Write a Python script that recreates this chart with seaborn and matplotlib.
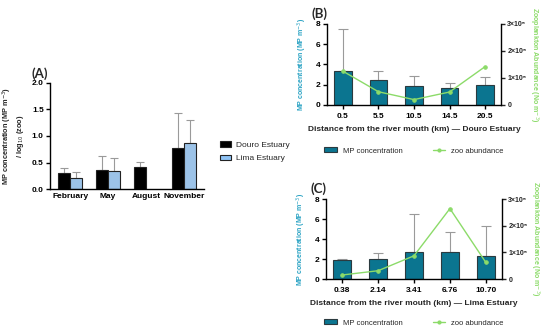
import numpy as np
import pandas as pd
import matplotlib
matplotlib.use("Agg")
import matplotlib.pyplot as plt
import seaborn as sns
from matplotlib.patches import Patch
from matplotlib.lines import Line2D

sns.set_theme(style="ticks")
plt.rcParams['font.family'] = ['Liberation Sans', 'DejaVu Sans']

# ---------------- data ----------------
months = ["February", "May", "August", "November"]
douro_ratio = [0.31, 0.36, 0.41, 0.77]
douro_ratio_err = [0.09, 0.26, 0.10, 0.66]
lima_ratio = [0.20, 0.34, np.nan, 0.87]
lima_ratio_err = [0.13, 0.24, np.nan, 0.43]

douro_dist = ["0.5", "5.5", "10.5", "14.5", "20.5"]
douro_mp = [3.35, 2.50, 1.85, 1.68, 2.00]
douro_mp_err = [4.20, 0.90, 1.00, 0.50, 0.72]
douro_zoo = [1.25e5, 0.49e5, 0.20e5, 0.48e5, 1.42e5]

lima_dist = ["0.38", "2.14", "3.41", "6.76", "10.70"]
lima_mp = [1.90, 2.05, 2.75, 2.72, 2.30]
lima_mp_err = [0.10, 0.53, 3.75, 2.00, 3.00]
lima_zoo = [0.15e5, 0.31e5, 0.87e5, 2.64e5, 0.62e5]

# ---------------- styles ----------------
BAR = "#0b7590"
GREEN = "#8cdb69"
LBLUE = "#2ba3c4"
ERR = "#9a9a9a"
W, H = 550, 330

fig = plt.figure(figsize=(5.5, 3.3), dpi=100)

def px_axes(l, t, r, b):
    return fig.add_axes([l / W, 1 - b / H, (r - l) / W, (b - t) / H])

def style_ax(ax):
    for s in ["top", "right"]:
        ax.spines[s].set_visible(False)
    for s in ["left", "bottom"]:
        ax.spines[s].set_linewidth(1.0)
        ax.spines[s].set_color("black")
    ax.tick_params(axis="both", labelsize=6, width=1.0, length=3, pad=1.5, colors="black")
    for lab in ax.get_xticklabels() + ax.get_yticklabels():
        lab.set_fontweight("bold")

# ---------------- Panel A ----------------
axA = px_axes(50, 83, 204, 189)
dfA = pd.DataFrame({
    "month": months * 2,
    "val": douro_ratio + lima_ratio,
    "err": douro_ratio_err + lima_ratio_err,
    "est": ["Douro Estuary"] * 4 + ["Lima Estuary"] * 4,
})
sns.barplot(data=dfA, x="month", y="val", hue="est", ax=axA, order=months,
            hue_order=["Douro Estuary", "Lima Estuary"],
            palette=["black", "#8fc3f5"], width=0.64, errorbar=None,
            edgecolor="#222222", linewidth=0.8, legend=False)
offs = [-0.16, 0.16]
for k, (vals, errs) in enumerate([(douro_ratio, douro_ratio_err), (lima_ratio, lima_ratio_err)]):
    xs = np.arange(len(months)) + offs[k]
    axA.errorbar(xs, vals, yerr=[np.zeros(len(vals)), errs], fmt="none",
                 ecolor=ERR, elinewidth=0.8, capsize=3, capthick=0.8, zorder=0)
axA.set_xlim(-0.53, 3.53)
axA.set_ylim(0, 2.0)
axA.set_yticks([0, 0.5, 1.0, 1.5, 2.0])
axA.set_yticklabels(["0.0", "0.5", "1.0", "1.5", "2.0"])
axA.set_xlabel("")
axA.set_ylabel("MP concentration (MP m$^{-3}$)\n/ log$_{10}$ (zoo)", fontsize=5.3,
               fontweight="bold", labelpad=4)
style_ax(axA)
axA.tick_params(axis="x", length=0, pad=3)
axA.text(-0.12, 1.03, "(A)", transform=axA.transAxes, fontsize=9.5,
         fontweight="bold", family="Lato", va="bottom", ha="left")
handlesA = [Patch(facecolor="black", edgecolor="#222222", linewidth=0.8),
            Patch(facecolor="#8fc3f5", edgecolor="#222222", linewidth=0.8)]
fig.legend(handlesA, ["Douro Estuary", "Lima Estuary"], loc="upper left",
           bbox_to_anchor=(212 / W, 1 - 134 / H), frameon=False, fontsize=6,
           handlelength=1.4, handleheight=0.6, labelspacing=0.7, handletextpad=0.6)

# ---------------- Panels B, C ----------------
def dist_panel(l, t, r, b, cats, mp, mp_err, zoo, letter, estuary, leg_y):
    ax = px_axes(l, t, r, b)
    df = pd.DataFrame({"cat": cats, "mp": mp})
    sns.barplot(data=df, x="cat", y="mp", ax=ax, order=cats, color=BAR,
                width=0.5, errorbar=None, edgecolor="#2b3a3f", linewidth=0.8,
                saturation=1)
    ax.errorbar(np.arange(len(cats)), mp, yerr=[np.zeros(len(mp)), mp_err],
                fmt="none", ecolor=ERR, elinewidth=0.8, capsize=3.5,
                capthick=0.8, zorder=0)
    ax.set_xlim(-0.45, len(cats) - 0.55)
    ax.set_ylim(0, 8)
    ax.set_yticks([0, 2, 4, 6, 8])
    ax.set_xlabel(f"Distance from the river mouth (km) \u2014 {estuary}",
                  fontsize=6, fontweight="bold", labelpad=4)
    ax.set_ylabel("MP concentration (MP m$^{-3}$)", fontsize=5,
                  fontweight="bold", color=LBLUE, labelpad=5)
    style_ax(ax)
    ax.tick_params(axis="x", pad=3)

    ax2 = ax.twinx()
    sns.lineplot(x=np.arange(len(cats)), y=zoo, ax=ax2, color=GREEN,
                 linewidth=1.0, marker="o", markersize=2.5,
                 markeredgecolor=GREEN)
    ax2.set_ylim(0, 3e5)
    ax2.set_yticks([0, 1e5, 2e5, 3e5])
    ax2.set_yticklabels(["0", "1×10⁵", "2×10⁵", "3×10⁵"])
    for s in ["top", "left", "bottom"]:
        ax2.spines[s].set_visible(False)
    ax2.spines["right"].set_linewidth(1.0)
    ax2.spines["right"].set_color("black")
    ax2.tick_params(axis="y", labelsize=5, width=1.0, length=3, pad=1.5)
    for lab in ax2.get_yticklabels():
        lab.set_fontweight("bold")
    ax2.set_ylabel("Zooplankton Abundance (No m$^{-3}$)", fontsize=5,
                   fontweight="bold", color=GREEN, rotation=270, labelpad=10)
    ax2.set_xlim(ax.get_xlim())

    ax.text(-0.09, 1.05, letter, transform=ax.transAxes, fontsize=9.5,
            fontweight="bold", family="Lato", va="bottom", ha="left")

    handles = [Patch(facecolor=BAR, edgecolor="#2b3a3f", linewidth=0.8),
               Line2D([0], [0], color=GREEN, lw=1.0, marker="o", markersize=2)]
    fig.legend(handles, ["MP concentration", "zoo abundance"], loc="center",
               bbox_to_anchor=((l + r) / 2 / W, 1 - leg_y / H), ncol=2,
               frameon=False, fontsize=5.5, handlelength=1.6,
               handleheight=0.6, columnspacing=4, handletextpad=0.8)
    return ax

dist_panel(327, 24, 501, 105, douro_dist, douro_mp, douro_mp_err, douro_zoo,
           "(B)", "Douro Estuary", 151)
dist_panel(326, 199, 502, 279, lima_dist, lima_mp, lima_mp_err, lima_zoo,
           "(C)", "Lima Estuary", 323)

fig.savefig("out.png", dpi=100)
